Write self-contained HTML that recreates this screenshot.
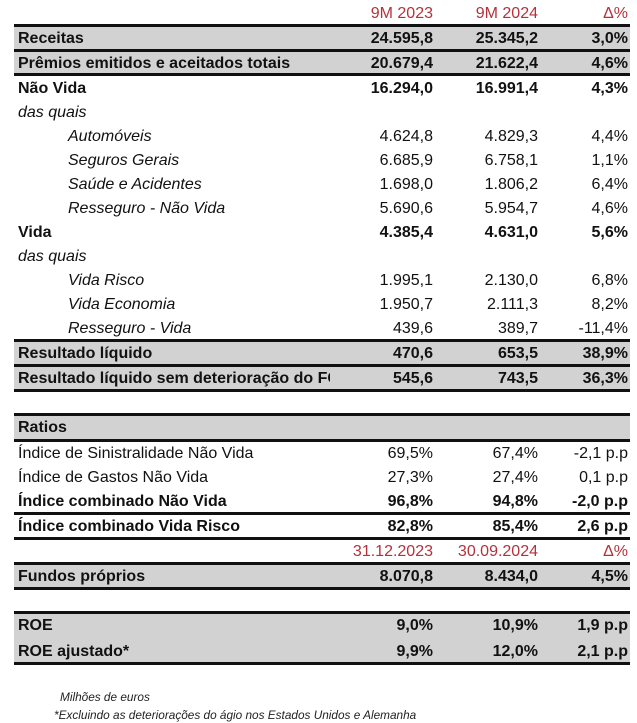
<!DOCTYPE html>
<html><head><meta charset="utf-8"><style>
body{margin:0;width:637px;height:723px;background:#fff;position:relative;overflow:hidden;font-family:"Liberation Sans",sans-serif;font-size:16px;color:#111}
.r{position:absolute;left:14px;width:616px;height:24px;line-height:25px}
.g{background:#d2d2d2}
.b{font-weight:bold}
.i .l{font-style:italic}
.l{position:absolute;left:4px;white-space:nowrap}
.c1,.c2,.c3{position:absolute;text-align:right;white-space:nowrap}
.c1{right:197px}.c2{right:92px}.c3{right:2px}
.red{color:#b5313a}
.hl{position:absolute;left:14px;width:616px;height:2.5px;background:#111}
.f{position:absolute;left:54px;font-style:italic;font-size:11.8px;color:#222}
</style></head><body>
<div class="r red" style="top:1px"><span class="c1">9M 2023</span><span class="c2">9M 2024</span><span class="c3">Δ%</span></div>
<div class="r g b" style="top:26px"><span class="l">Receitas</span><span class="c1">24.595,8</span><span class="c2">25.345,2</span><span class="c3">3,0%</span></div>
<div class="r g b" style="top:51px"><span class="l">Prêmios emitidos e aceitados totais</span><span class="c1">20.679,4</span><span class="c2">21.622,4</span><span class="c3">4,6%</span></div>
<div class="r b" style="top:76px"><span class="l">Não Vida</span><span class="c1">16.294,0</span><span class="c2">16.991,4</span><span class="c3">4,3%</span></div>
<div class="r i" style="top:100px"><span class="l">das quais</span></div>
<div class="r i" style="top:124px"><span class="l" style="left:54px">Automóveis</span><span class="c1">4.624,8</span><span class="c2">4.829,3</span><span class="c3">4,4%</span></div>
<div class="r i" style="top:148px"><span class="l" style="left:54px">Seguros Gerais</span><span class="c1">6.685,9</span><span class="c2">6.758,1</span><span class="c3">1,1%</span></div>
<div class="r i" style="top:172px"><span class="l" style="left:54px">Saúde e Acidentes</span><span class="c1">1.698,0</span><span class="c2">1.806,2</span><span class="c3">6,4%</span></div>
<div class="r i" style="top:196px"><span class="l" style="left:54px">Resseguro - Não Vida</span><span class="c1">5.690,6</span><span class="c2">5.954,7</span><span class="c3">4,6%</span></div>
<div class="r b" style="top:220px"><span class="l">Vida</span><span class="c1">4.385,4</span><span class="c2">4.631,0</span><span class="c3">5,6%</span></div>
<div class="r i" style="top:244px"><span class="l">das quais</span></div>
<div class="r i" style="top:268px"><span class="l" style="left:54px">Vida Risco</span><span class="c1">1.995,1</span><span class="c2">2.130,0</span><span class="c3">6,8%</span></div>
<div class="r i" style="top:292px"><span class="l" style="left:54px">Vida Economia</span><span class="c1">1.950,7</span><span class="c2">2.111,3</span><span class="c3">8,2%</span></div>
<div class="r i" style="top:316px"><span class="l" style="left:54px">Resseguro - Vida</span><span class="c1">439,6</span><span class="c2">389,7</span><span class="c3">-11,4%</span></div>
<div class="r g b" style="top:341px"><span class="l">Resultado líquido</span><span class="c1">470,6</span><span class="c2">653,5</span><span class="c3">38,9%</span></div>
<div class="r g b" style="top:366px"><span class="l" style="width:312px;overflow:hidden">Resultado líquido sem deterioração do FC</span><span class="c1">545,6</span><span class="c2">743,5</span><span class="c3">36,3%</span></div>
<div class="r g b" style="top:415px"><span class="l">Ratios</span></div>
<div class="r" style="top:441px"><span class="l">Índice de Sinistralidade Não Vida</span><span class="c1">69,5%</span><span class="c2">67,4%</span><span class="c3">-2,1 p.p</span></div>
<div class="r" style="top:465px"><span class="l">Índice de Gastos Não Vida</span><span class="c1">27,3%</span><span class="c2">27,4%</span><span class="c3">0,1 p.p</span></div>
<div class="r b" style="top:489px"><span class="l">Índice combinado Não Vida</span><span class="c1">96,8%</span><span class="c2">94,8%</span><span class="c3">-2,0 p.p</span></div>
<div class="r b" style="top:514px"><span class="l">Índice combinado Vida Risco</span><span class="c1">82,8%</span><span class="c2">85,4%</span><span class="c3">2,6 p.p</span></div>
<div class="r red" style="top:539px"><span class="c1">31.12.2023</span><span class="c2">30.09.2024</span><span class="c3">Δ%</span></div>
<div class="r g b" style="top:564px"><span class="l">Fundos próprios</span><span class="c1">8.070,8</span><span class="c2">8.434,0</span><span class="c3">4,5%</span></div>
<div class="r g b" style="top:613px;height:26px;line-height:26px"><span class="l">ROE</span><span class="c1">9,0%</span><span class="c2">10,9%</span><span class="c3">1,9 p.p</span></div>
<div class="r g b" style="top:639px"><span class="l">ROE ajustado*</span><span class="c1">9,9%</span><span class="c2">12,0%</span><span class="c3">2,1 p.p</span></div>
<div class="hl" style="top:24px"></div>
<div class="hl" style="top:49px"></div>
<div class="hl" style="top:73px"></div>
<div class="hl" style="top:339px"></div>
<div class="hl" style="top:364px"></div>
<div class="hl" style="top:389px"></div>
<div class="hl" style="top:413px"></div>
<div class="hl" style="top:439px"></div>
<div class="hl" style="top:512px"></div>
<div class="hl" style="top:537px"></div>
<div class="hl" style="top:562px"></div>
<div class="hl" style="top:587px"></div>
<div class="hl" style="top:611px"></div>
<div class="hl" style="top:662px"></div>
<div class="f" style="top:690px;left:60px">Milhões de euros</div>
<div class="f" style="top:708px">*Excluindo as deteriorações do ágio nos Estados Unidos e Alemanha</div>
</body></html>
